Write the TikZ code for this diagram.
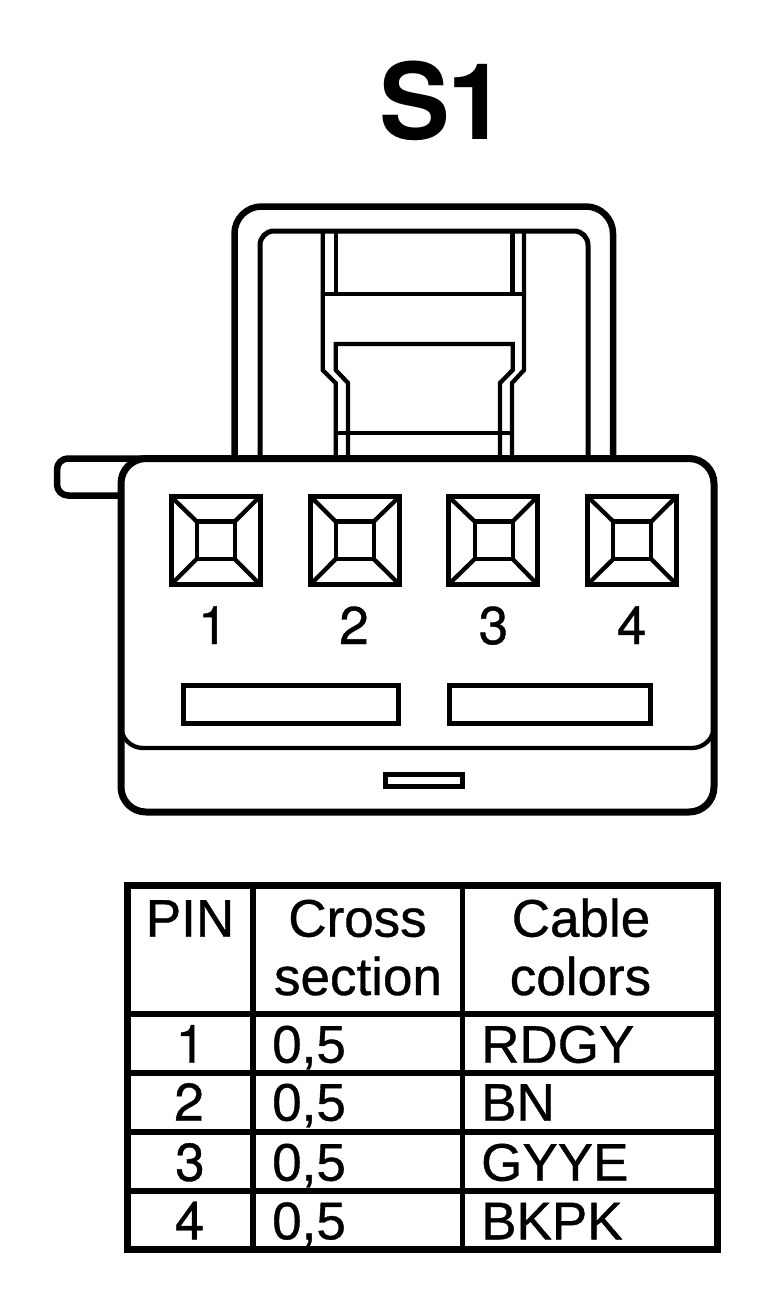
\documentclass[tikz,border=0pt]{standalone}
\usepackage{fontspec}
\setmainfont[FakeBold=0.7]{Liberation Sans}
\newfontfamily\digitfont[FakeBold=0.7]{TeX Gyre Heros}
\newfontfamily\titlefont{TeX Gyre Heros Bold}
\newcommand{\fsz}[1]{\fontsize{#1}{#1}\selectfont}
\tikzset{
  x=1pt,y=-1pt,
  outer/.style={draw=black,line width=6.5pt,line join=round},
  mid/.style={draw=black,line width=5pt,line join=miter},
  thin/.style={draw=black,line width=4.3pt,line join=miter},
  rule/.style={draw=black,line width=5.5pt},
  frame/.style={draw=black,line width=6.5pt},
  pinlabel/.style={inner sep=0pt,anchor=base,font=\digitfont\fsz{53}},
  cell/.style={inner sep=0pt,anchor=base,font=\fsz{53}},
  digitcell/.style={inner sep=0pt,anchor=base,font=\digitfont\fsz{53}},
  leftcell/.style={inner sep=0pt,anchor=base west,font=\fsz{53}},
}
\newcommand{\pinsq}[3]{%
  \coordinate (o#1a) at (#2,496.5);\coordinate (o#1b) at (#2+89,496.5);
  \coordinate (o#1c) at (#2+89,584.5);\coordinate (o#1d) at (#2,584.5);
  \coordinate (i#1a) at (#3,521.5);\coordinate (i#1b) at (#3+38,521.5);
  \coordinate (i#1c) at (#3+38,559);\coordinate (i#1d) at (#3,559);
  \draw[mid] (o#1a)--(o#1b)--(o#1c)--(o#1d)--cycle;
  \draw[thin] (i#1a)--(i#1b)--(i#1c)--(i#1d)--cycle;
  \draw[thin] (o#1a)--(i#1a) (o#1b)--(i#1b) (o#1c)--(i#1c) (o#1d)--(i#1d);
}
\begin{document}
\begin{tikzpicture}
\useasboundingbox (0,0) rectangle (768,1302);
\fill[white] (0,0) rectangle (768,1302);
% title
\node[inner sep=0pt,anchor=base west,font=\titlefont\fsz{106}] (title) at (379,139) {S\kern-2pt 1};
% handle
\draw[outer,rounded corners=27pt] (234.5,458) -- (234.5,206.5) -- (613,206.5) -- (613,458);
\draw[mid,rounded corners=14pt] (260,458) -- (260,231) -- (588,231) -- (588,458);
\draw[thin] (322.7,231) -- (322.7,370) -- (335.7,383) -- (335.7,458);
\draw[thin] (524,231) -- (524,370) -- (512,383) -- (512,458);
\draw[thin] (335.7,231) -- (335.7,294);
\draw[thin] (512.5,231) -- (512.5,294);
\draw[thin] (322.7,294.3) -- (524,294.3);
\draw[thin] (348,458) -- (348,383) -- (335.7,370) -- (335.7,344) -- (512.7,344) -- (512.7,370) -- (500,383) -- (500,458);
\draw[thin] (335.7,432.7) -- (512,432.7);
% tab
\draw[outer,rounded corners=11pt] (121,495.5) -- (57,495.5) -- (57,458.5) -- (150,458.5);
% body
\fill[white,rounded corners=25pt] (121,458.5) rectangle (714,812);
\draw[outer,line width=7pt,rounded corners=25pt] (121,458.5) -- (714,458.5) -- (714,812) -- (121,812) -- cycle;
\draw[thin,rounded corners=22pt] (121,726) -- (121,748) -- (714,748) -- (714,726);
% slots
\draw[mid] (183.7,685.7) rectangle (398,723);
\draw[mid] (449,685.7) rectangle (650.7,723);
\draw[mid] (385.7,774.5) rectangle (462,786.5);
% pins
\pinsq{1}{171}{196.7}
\pinsq{2}{310.5}{335.7}
\pinsq{3}{448.5}{474.7}
\pinsq{4}{587.5}{613.3}
\node[pinlabel] (p1) at (213,644) {1};
\node[pinlabel] (p2) at (354,644) {2};
\node[pinlabel] (p3) at (493.5,644) {3};
\node[pinlabel] (p4) at (631.7,644) {4};
% table
\draw[frame] (127.5,885.7) rectangle (717.7,1249.7);
\draw[rule] (253,885.7) -- (253,1249.7);
\draw[rule] (462.5,885.7) -- (462.5,1249.7);
\draw[rule] (127.5,1013.8) -- (717.7,1013.8);
\draw[rule] (127.5,1072.8) -- (717.7,1072.8);
\draw[rule] (127.5,1131.8) -- (717.7,1131.8);
\draw[rule] (127.5,1190.8) -- (717.7,1190.8);
\node[cell] (hpin) at (190,936.7) {PIN};
\node[cell] (hc1) at (357.5,936.7) {Cross};
\node[cell] (hc2) at (358,995) {section};
\node[cell] (hk1) at (581,936.7) {Cable};
\node[cell] (hk2) at (580.5,995) {colors};
\node[digitcell] (r1) at (190.5,1062.7) {1};
\node[digitcell] (r2) at (189,1120.7) {2};
\node[digitcell] (r3) at (190,1180.7) {3};
\node[digitcell] (r4) at (189.5,1239.3) {4};
\node[leftcell] (s1) at (272,1062.7) {0,5};
\node[leftcell] (s2) at (272,1120.7) {0,5};
\node[leftcell] (s3) at (272,1180.7) {0,5};
\node[leftcell] (s4) at (272,1239.3) {0,5};
\node[leftcell] (c1) at (481,1062.7) {RDGY};
\node[leftcell] (c2) at (481,1120.7) {BN};
\node[leftcell] (c3) at (481,1180.7) {GYYE};
\node[leftcell] (c4) at (481,1239.3) {BKPK};
\end{tikzpicture}
\end{document}
